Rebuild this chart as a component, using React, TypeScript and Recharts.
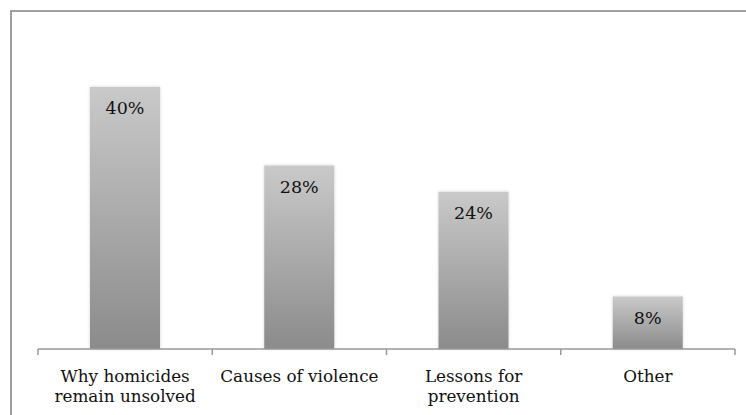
import React from "react";
import { BarChart, Bar, XAxis, YAxis, LabelList } from "recharts";

const categories: string[] = ["Why homicides\nremain unsolved", "Causes of violence", "Lessons for\nprevention", "Other"];
const values: number[] = [40, 28, 24, 8];

const data = categories.map((c, i) => ({ name: c, value: values[i] }));

const W = 746;
const H = 415;
const M = { top: 21.5, right: 11, bottom: 6, left: 38 };
const BAND = (W - M.left - M.right) / categories.length;
const FONT = "'DejaVu Serif', serif";

const Tick = (props: any) => {
  const { x, y, payload, index } = props;
  const lines = String(payload.value).split("\n");
  const half = BAND / 2;
  return (
    <g>
      <line x1={x - half} x2={x - half} y1={y} y2={y + 6} stroke="#999" strokeWidth={1.5} />
      {index === categories.length - 1 && (
        <line x1={x + half} x2={x + half} y1={y} y2={y + 6} stroke="#999" strokeWidth={1.5} />
      )}
      <text x={x} y={y} textAnchor="middle" fontFamily={FONT} fontSize={16.8} fill="#111">
        {lines.map((l, i) => (
          <tspan key={i} x={x} dy={i === 0 ? 33 : 20}>
            {l}
          </tspan>
        ))}
      </text>
    </g>
  );
};

export default function App() {
  return (
    <div style={{ position: "absolute", left: 0, top: 0, width: W, height: H, overflow: "hidden", background: "#fff" }}>
      <div
        style={{
          position: "absolute",
          left: 10,
          top: 10,
          width: W,
          height: H,
          borderLeft: "2px solid #a0a0a0",
          borderTop: "2px solid #a0a0a0",
        }}
      />
      <div style={{ position: "absolute", left: 0, top: 0 }}>
        <BarChart width={W} height={H} data={data} margin={M} barSize={70}>
          <defs>
            <linearGradient id="barGrad" x1="0" y1="0" x2="0" y2="1">
              <stop offset="0%" stopColor="#c9c9c9" />
              <stop offset="100%" stopColor="#8b8b8b" />
            </linearGradient>
            <filter id="sh" x="-10%" y="-5%" width="120%" height="110%">
              <feDropShadow dx="0" dy="0" stdDeviation="1.5" floodColor="#000" floodOpacity="0.18" />
            </filter>
          </defs>
          <YAxis hide domain={[0, 50]} />
          <XAxis
            dataKey="name"
            interval={0}
            height={60}
            tickLine={false}
            tickSize={0}
            tickMargin={0}
            axisLine={{ stroke: "#999", strokeWidth: 1.5 }}
            tick={<Tick />}
          />
          <Bar dataKey="value" fill="url(#barGrad)" isAnimationActive={false} filter="url(#sh)">
            <LabelList
              dataKey="value"
              position="insideTop"
              offset={15}
              formatter={(v: any) => `${v}%`}
              style={{ fontFamily: FONT, fontSize: 17.5, fill: "#111" }}
            />
          </Bar>
        </BarChart>
      </div>
    </div>
  );
}
